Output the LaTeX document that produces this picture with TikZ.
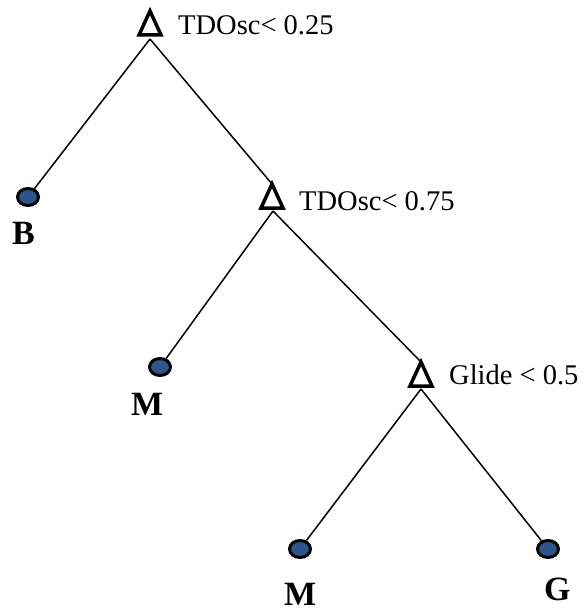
\documentclass[tikz,border=0pt]{standalone}
\usepackage{fontspec}
\setmainfont{Liberation Serif}
\usetikzlibrary{shapes.geometric}
\definecolor{leafblue}{RGB}{46,84,140}
\tikzset{
  splitmark/.style={draw, line width=3.5bp, line join=miter},
  leafnode/.style={draw, line width=3bp, fill=leafblue, ellipse, minimum width=21bp,
    minimum height=17bp, inner sep=0pt},
  edge/.style={line width=1.5bp},
  testlabel/.style={anchor=base west, inner sep=0pt, font=\fontsize{28.5bp}{32bp}\selectfont},
  classlabel/.style={anchor=base west, inner sep=0pt, font=\fontsize{34bp}{38bp}\selectfont\bfseries}
}
% open triangle marking a split, apex at the named coordinate
\newcommand{\splittri}[1]{%
  \path[splitmark] (#1) -- ++(11,24) -- ++(-22,0) -- cycle;}
\begin{document}
\begin{tikzpicture}[x=1bp, y=-1bp]
  \useasboundingbox (0,0) rectangle (584,613);

  % decision nodes (apex points)
  \coordinate (t1) at (150,11);
  \coordinate (t2) at (272,184);
  \coordinate (t3) at (421,362);
  \splittri{t1}
  \splittri{t2}
  \splittri{t3}
  \coordinate (s1) at (150,39);
  \coordinate (s2) at (273,211);
  \coordinate (s3) at (421,389);

  % leaves
  \node[leafnode] (lb) at (28,197) {};
  \node[leafnode] (lm1) at (160,367) {};
  \node[leafnode] (lm2) at (300,549) {};
  \node[leafnode] (lg) at (548,549) {};

  % branches
  \draw[edge] (s1) -- (lb);
  \draw[edge] (s1) -- (t2);
  \draw[edge] (s2) -- (lm1);
  \draw[edge] (s2) -- (t3);
  \draw[edge] (s3) -- (lm2);
  \draw[edge] (s3) -- (lg);

  % test labels
  \node[testlabel] (c1) at (178,35) {TDOsc< 0.25};
  \node[testlabel] (c2) at (299,210) {TDOsc< 0.75};
  \node[testlabel] (c3) at (449,384) {Glide < 0.5};

  % class labels
  \node[classlabel] (nb) at (12,244) {B};
  \node[classlabel] (nm1) at (131,415) {M};
  \node[classlabel] (nm2) at (284,605) {M};
  \node[classlabel] (ng) at (544,600) {G};
\end{tikzpicture}
\end{document}
